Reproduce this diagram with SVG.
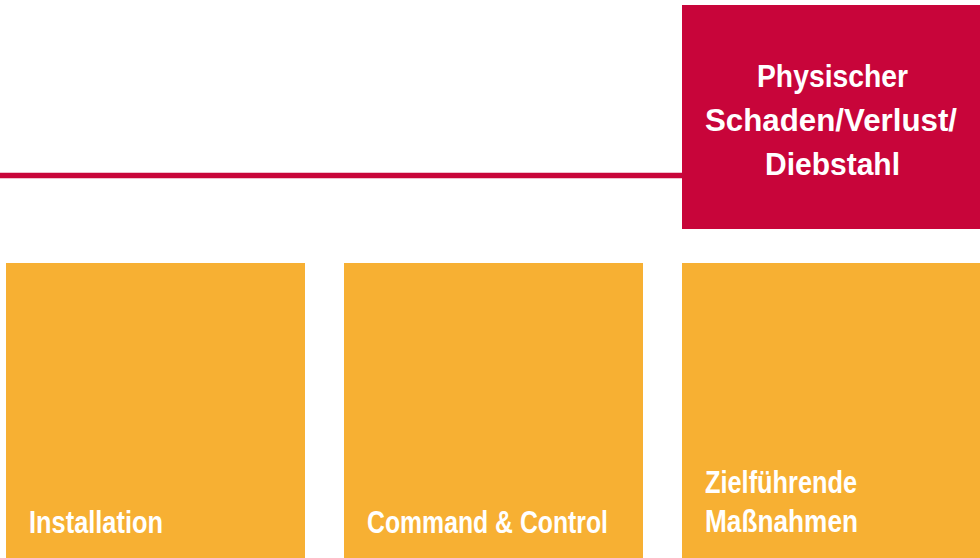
<svg xmlns="http://www.w3.org/2000/svg" width="980" height="558" viewBox="0 0 980 558">
<style>
.red{fill:#C8053A}
.org{fill:#F7B033}
.t{fill:#FFFFFF;font-family:"Liberation Sans",Arial,sans-serif;font-weight:bold;font-size:32px}
</style>
<rect width="980" height="558" fill="#FFFFFF"/>
<g id="connectors">
<line x1="0" y1="175.5" x2="684" y2="175.5" stroke="#C8053A" stroke-width="5.5"/>
</g>
<g id="node-physischer">
<rect class="red" x="682" y="5" width="298" height="224"/>
<text class="t" x="757" y="87" textLength="151" lengthAdjust="spacingAndGlyphs">Physischer</text>
<text class="t" x="705" y="131" textLength="252" lengthAdjust="spacingAndGlyphs">Schaden/Verlust/</text>
<text class="t" x="765" y="175" textLength="135" lengthAdjust="spacingAndGlyphs">Diebstahl</text>
</g>
<g id="node-installation">
<rect class="org" x="6" y="263" width="299" height="295"/>
<text class="t" x="29" y="533" textLength="134" lengthAdjust="spacingAndGlyphs">Installation</text>
</g>
<g id="node-command">
<rect class="org" x="344" y="263" width="299" height="295"/>
<text class="t" x="367" y="533" textLength="241" lengthAdjust="spacingAndGlyphs">Command &amp; Control</text>
</g>
<g id="node-massnahmen">
<rect class="org" x="682" y="263" width="298" height="295"/>
<text class="t" x="705" y="493" textLength="152" lengthAdjust="spacingAndGlyphs">Zielführende</text>
<text class="t" x="705" y="532" textLength="153" lengthAdjust="spacingAndGlyphs">Maßnahmen</text>
</g>
</svg>
